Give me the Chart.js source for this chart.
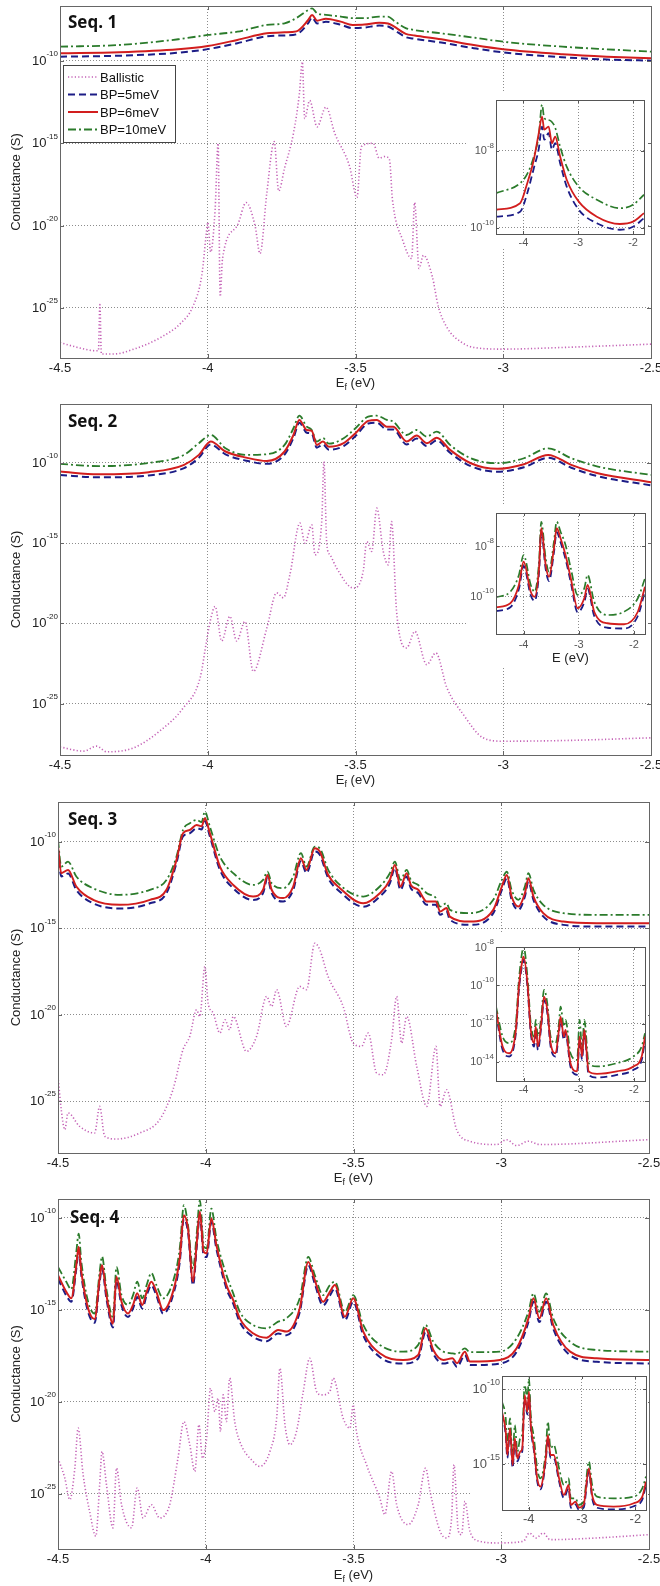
<!DOCTYPE html>
<html>
<head>
<meta charset="utf-8">
<title>Conductance vs Fermi energy</title>
<script src="https://cdn.jsdelivr.net/npm/chart.js@4.4.1/dist/chart.umd.min.js"></script>
<style>
  html, body { margin: 0; padding: 0; background: #fff; }
  body { position: relative; width: 660px; height: 1586px; overflow: hidden; font-family: "Liberation Sans", Arial, sans-serif; }
  canvas { position: absolute; }
  .seq { position: absolute; font: 700 17px/17px "Open Sans", "Noto Sans", sans-serif; color: #111; white-space: nowrap; }
  .xt { position: absolute; width: 120px; text-align: center; font-size: 13px; line-height: 15px; color: #222; }
  .xt sub { font-size: 9px; vertical-align: -3px; line-height: 0; }
</style>
</head>
<body>
<script>
// all conductance values are log10(G / S); energies in eV

// ---- Seq. 1 ----
const p1BalE = [-4.5,-4.44,-4.38,-4.37,-4.365,-4.36,-4.32,-4.25,-4.16,-4.09,-4.05,-4.02,-4.005,-4.0,-3.99,-3.975,-3.965,-3.958,-3.95,-3.9,-3.87,-3.84,-3.823,-3.8,-3.775,-3.76,-3.74,-3.71,-3.69,-3.68,-3.672,-3.655,-3.63,-3.6,-3.57,-3.52,-3.495,-3.48,-3.44,-3.42,-3.4,-3.385,-3.375,-3.34,-3.31,-3.3,-3.285,-3.27,-3.24,-3.22,-3.19,-3.14,-3.1,-3.0,-2.8,-2.5];
const p1Bal = [-27.1,-27.4,-27.6,-27.6,-24.8,-27.8,-27.8,-27.5,-26.8,-25.9,-24.9,-23.0,-20.5,-19.8,-21.6,-19.0,-15.0,-24.3,-22.0,-20.0,-18.6,-20.0,-21.7,-18.0,-14.9,-17.9,-16.5,-14.4,-12.0,-10.05,-13.5,-12.4,-14.0,-12.8,-14.4,-16.4,-18.3,-15.2,-15.0,-15.9,-15.8,-16.0,-18.4,-20.9,-22.0,-18.6,-22.6,-21.8,-23.1,-24.9,-26.2,-27.1,-27.4,-27.5,-27.4,-27.2];
const p1E = [-4.5,-4.3,-4.1,-4.0,-3.9,-3.8,-3.74,-3.7,-3.66,-3.647,-3.63,-3.6,-3.55,-3.51,-3.47,-3.42,-3.39,-3.37,-3.33,-3.3,-3.21,-3.1,-3.0,-2.8,-2.65,-2.5];
const p1Bp5 = [-9.74,-9.68,-9.5,-9.28,-8.92,-8.5,-8.45,-8.38,-7.7,-7.36,-7.72,-7.62,-7.8,-8.0,-7.97,-7.85,-7.9,-8.1,-8.55,-8.65,-8.88,-9.22,-9.48,-9.77,-9.91,-9.98];
const p1Bp6 = [-9.53,-9.47,-9.29,-9.09,-8.72,-8.32,-8.26,-8.2,-7.51,-7.2,-7.55,-7.43,-7.61,-7.81,-7.79,-7.67,-7.72,-7.9,-8.35,-8.45,-8.68,-9.03,-9.29,-9.59,-9.74,-9.84];
const p1Bp10 = [-9.13,-9.03,-8.68,-8.42,-8.22,-7.81,-7.71,-7.39,-6.9,-6.8,-7.1,-7.2,-7.3,-7.4,-7.4,-7.3,-7.3,-7.55,-8.0,-8.12,-8.32,-8.58,-8.83,-9.13,-9.29,-9.43];
const i1E = [-4.5,-4.06,-3.93,-3.81,-3.72,-3.66,-3.62,-3.54,-3.48,-3.42,-3.33,-3.21,-2.99,-2.66,-2.24,-2.0,-1.8];
const i1Bp5 = [-9.71,-9.58,-9.1,-8.45,-7.95,-7.37,-7.71,-7.54,-7.97,-7.8,-8.32,-8.93,-9.53,-9.88,-10.05,-9.97,-9.75];
const i1Bp6 = [-9.53,-9.36,-8.84,-8.23,-7.54,-7.11,-7.45,-7.37,-7.8,-7.63,-8.15,-8.75,-9.32,-9.71,-9.9,-9.84,-9.62];
const i1Bp10 = [-9.1,-8.84,-8.6,-8.15,-7.6,-6.8,-7.15,-7.2,-7.25,-7.4,-7.89,-8.41,-8.93,-9.27,-9.49,-9.4,-9.14];

// ---- Seq. 2 ----
const p2BalE = [-4.5,-4.42,-4.376,-4.342,-4.252,-4.162,-4.083,-4.026,-4.004,-3.992,-3.975,-3.953,-3.925,-3.902,-3.874,-3.846,-3.8,-3.767,-3.744,-3.722,-3.688,-3.671,-3.648,-3.637,-3.614,-3.607,-3.597,-3.586,-3.564,-3.507,-3.474,-3.462,-3.445,-3.428,-3.406,-3.389,-3.378,-3.361,-3.327,-3.299,-3.259,-3.228,-3.191,-3.135,-3.068,-3.0,-2.8,-2.5];
const p2Bal = [-27.7,-27.96,-27.65,-28.0,-27.76,-26.7,-25.27,-23.4,-21.1,-19.88,-18.94,-21.1,-19.56,-21.1,-19.88,-22.99,-20.29,-18.1,-18.4,-16.97,-13.75,-15.0,-13.86,-15.73,-13.55,-9.92,-15.1,-15.73,-16.55,-17.8,-16.76,-14.9,-15.52,-12.82,-15.52,-16.35,-13.65,-19.25,-21.53,-20.5,-22.57,-21.84,-24.0,-25.68,-27.13,-27.34,-27.3,-27.13];
const p2E = [-4.5,-4.37,-4.2,-4.08,-4.03,-3.99,-3.94,-3.87,-3.8,-3.74,-3.71,-3.69,-3.665,-3.648,-3.631,-3.61,-3.59,-3.54,-3.5,-3.457,-3.428,-3.394,-3.372,-3.327,-3.293,-3.259,-3.225,-3.18,-3.11,-3.02,-2.93,-2.848,-2.77,-2.68,-2.5];
const p2Bp5 = [-10.75,-10.9,-10.78,-10.32,-9.68,-8.85,-9.47,-9.86,-10.06,-9.48,-8.45,-7.5,-8.12,-8.18,-9.05,-8.85,-9.18,-8.95,-8.33,-7.55,-7.5,-7.92,-7.92,-8.85,-8.48,-8.95,-8.6,-9.37,-10.2,-10.55,-10.27,-9.68,-10.3,-10.83,-11.4];
const p2Bp6 = [-10.54,-10.71,-10.58,-10.12,-9.5,-8.67,-9.29,-9.67,-9.88,-9.29,-8.26,-7.32,-7.95,-8.0,-8.88,-8.67,-9.0,-8.77,-8.15,-7.38,-7.32,-7.74,-7.74,-8.67,-8.3,-8.77,-8.43,-9.19,-10.02,-10.37,-10.08,-9.5,-10.12,-10.64,-11.2];
const p2Bp10 = [-10.06,-10.2,-10.0,-9.5,-8.77,-8.26,-9.09,-9.5,-9.46,-8.88,-7.84,-7.06,-7.74,-7.95,-8.67,-8.46,-8.8,-8.46,-7.84,-7.12,-7.06,-7.32,-7.43,-8.26,-7.95,-8.36,-8.05,-8.88,-9.71,-10.02,-9.71,-9.09,-9.71,-10.23,-10.75];
const i2E = [-4.5,-4.24,-4.085,-4.0,-3.87,-3.8,-3.72,-3.68,-3.6,-3.54,-3.45,-3.4,-3.33,-3.24,-3.145,-3.02,-2.9,-2.84,-2.72,-2.48,-2.18,-1.93,-1.8];
const i2Bp5 = [-10.6,-10.45,-9.72,-8.8,-9.98,-10.2,-9.05,-7.45,-8.92,-9.4,-8.25,-7.45,-7.85,-8.52,-9.45,-10.65,-10.25,-9.72,-10.8,-11.27,-11.3,-10.8,-9.8];
const i2Bp6 = [-10.45,-10.29,-9.56,-8.63,-9.83,-10.03,-8.89,-7.29,-8.76,-9.23,-8.09,-7.29,-7.69,-8.36,-9.29,-10.49,-10.09,-9.56,-10.63,-11.09,-11.13,-10.63,-9.63];
const i2Bp10 = [-10.05,-9.83,-9.16,-8.36,-9.56,-9.83,-8.63,-7.03,-8.49,-9.03,-7.83,-7.03,-7.43,-7.96,-8.89,-9.96,-9.69,-9.16,-10.23,-10.76,-10.63,-10.09,-9.29];

// ---- Seq. 3 ----
const p3BalE = [-4.5,-4.489,-4.477,-4.466,-4.427,-4.376,-4.359,-4.342,-4.302,-4.223,-4.156,-4.111,-4.077,-4.054,-4.031,-4.02,-4.003,-3.992,-3.975,-3.952,-3.935,-3.919,-3.907,-3.862,-3.828,-3.794,-3.777,-3.76,-3.727,-3.682,-3.659,-3.631,-3.614,-3.586,-3.535,-3.501,-3.473,-3.45,-3.422,-3.399,-3.371,-3.354,-3.337,-3.32,-3.286,-3.252,-3.221,-3.207,-3.185,-3.151,-3.106,-3.015,-2.982,-2.948,-2.908,-2.869,-2.5];
const p3Bal = [-23.57,-25.49,-26.65,-25.68,-26.46,-26.84,-25.3,-27.03,-27.19,-26.84,-26.07,-24.34,-22.02,-21.25,-19.71,-20.1,-17.21,-19.33,-19.9,-21.06,-20.29,-20.87,-20.1,-22.12,-21.25,-18.94,-19.52,-18.55,-20.68,-18.36,-18.55,-15.86,-16.24,-17.79,-19.52,-21.64,-21.83,-21.06,-23.37,-23.47,-21.45,-18.94,-21.64,-20.1,-22.99,-25.3,-21.83,-25.3,-24.34,-26.65,-27.32,-27.51,-27.23,-27.57,-27.32,-27.51,-27.23];
const p3E = [-4.5,-4.489,-4.466,-4.438,-4.381,-4.291,-4.189,-4.133,-4.099,-4.077,-4.054,-4.031,-4.014,-4.003,-3.986,-3.952,-3.907,-3.84,-3.806,-3.791,-3.777,-3.738,-3.704,-3.678,-3.659,-3.631,-3.614,-3.586,-3.546,-3.467,-3.411,-3.377,-3.36,-3.341,-3.32,-3.306,-3.281,-3.252,-3.221,-3.207,-3.185,-3.174,-3.106,-3.027,-2.998,-2.981,-2.965,-2.942,-2.92,-2.908,-2.891,-2.858,-2.79,-2.677,-2.5];
const p3Bp5 = [-10.45,-12.0,-11.82,-12.78,-13.55,-13.85,-13.55,-12.97,-11.22,-9.68,-9.5,-9.2,-9.28,-8.8,-9.68,-11.62,-12.68,-13.36,-12.96,-12.1,-12.96,-13.45,-12.78,-11.12,-11.8,-10.55,-10.74,-12.08,-12.88,-13.75,-13.16,-12.4,-11.52,-12.78,-12.0,-12.68,-12.96,-13.64,-13.64,-14.22,-14.02,-14.5,-14.8,-14.12,-12.78,-12.1,-13.35,-13.93,-13.16,-12.3,-13.35,-14.31,-14.8,-14.9,-14.9];
const p3Bp6 = [-10.27,-11.81,-11.62,-12.58,-13.35,-13.64,-13.35,-12.77,-11.04,-9.5,-9.31,-9.02,-9.1,-8.63,-9.5,-11.43,-12.49,-13.16,-12.77,-11.91,-12.77,-13.25,-12.58,-10.94,-11.62,-10.37,-10.56,-11.9,-12.68,-13.55,-12.97,-12.2,-11.33,-12.58,-11.81,-12.49,-12.77,-13.45,-13.45,-14.03,-13.83,-14.32,-14.61,-13.93,-12.58,-11.91,-13.16,-13.74,-12.97,-12.1,-13.16,-14.12,-14.61,-14.7,-14.7];
const p3Bp10 = [-9.88,-11.43,-11.14,-12.0,-12.68,-13.06,-12.77,-12.2,-10.85,-9.31,-8.92,-8.73,-8.85,-8.25,-9.12,-10.85,-11.81,-12.49,-12.2,-11.72,-12.39,-12.68,-12.0,-10.65,-11.43,-10.27,-10.37,-11.6,-12.49,-13.16,-12.58,-11.81,-11.14,-12.2,-11.62,-12.2,-12.49,-12.97,-13.25,-13.74,-13.55,-13.93,-14.12,-13.35,-12.2,-11.72,-12.77,-13.35,-12.58,-11.81,-12.77,-13.64,-14.12,-14.22,-14.22];
const i3E = [-4.5,-4.38,-4.26,-4.14,-4.085,-4.02,-4.0,-3.93,-3.87,-3.81,-3.78,-3.74,-3.68,-3.63,-3.57,-3.51,-3.42,-3.36,-3.33,-3.27,-3.24,-3.15,-3.03,-2.985,-2.94,-2.9,-2.82,-2.67,-2.31,-2.01,-1.86,-1.8];
const i3Bp5 = [-11.45,-13.38,-13.72,-12.5,-10.25,-8.85,-8.68,-10.08,-12.5,-13.2,-12.33,-13.38,-12.15,-10.77,-11.45,-13.2,-13.72,-12.5,-11.82,-12.85,-12.5,-14.25,-14.68,-12.85,-13.9,-12.5,-14.68,-14.82,-14.68,-14.42,-13.9,-12.85];
const i3Bp6 = [-11.29,-13.2,-13.55,-12.33,-10.07,-8.68,-8.5,-9.9,-12.33,-13.02,-12.16,-13.2,-11.98,-10.59,-11.29,-13.02,-13.55,-12.33,-11.64,-12.68,-12.33,-14.07,-14.5,-12.68,-13.72,-12.33,-14.5,-14.63,-14.5,-14.24,-13.72,-12.68];
const i3Bp10 = [-11.11,-12.68,-13.02,-11.98,-9.72,-8.16,-8.0,-9.55,-11.98,-12.68,-11.81,-12.68,-11.64,-10.24,-10.94,-12.68,-13.02,-11.98,-11.11,-12.16,-11.81,-13.55,-13.9,-11.81,-13.37,-11.81,-14.07,-14.24,-14.07,-13.72,-13.2,-12.5];

// ---- Seq. 4 ----
const p4BalE = [-4.5,-4.477,-4.46,-4.443,-4.432,-4.415,-4.393,-4.372,-4.359,-4.351,-4.336,-4.314,-4.302,-4.285,-4.251,-4.232,-4.212,-4.184,-4.156,-4.122,-4.094,-4.074,-4.054,-4.037,-4.023,-4.011,-3.997,-3.984,-3.969,-3.958,-3.95,-3.941,-3.93,-3.919,-3.902,-3.885,-3.84,-3.817,-3.783,-3.76,-3.749,-3.732,-3.715,-3.693,-3.67,-3.648,-3.625,-3.608,-3.58,-3.569,-3.535,-3.512,-3.501,-3.49,-3.456,-3.411,-3.394,-3.371,-3.354,-3.315,-3.281,-3.256,-3.241,-3.207,-3.185,-3.168,-3.16,-3.145,-3.134,-3.123,-3.106,-3.072,-3.015,-2.925,-2.905,-2.882,-2.858,-2.835,-2.677,-2.5];
const p4Bal = [-23.06,-24.14,-25.32,-23.6,-21.43,-23.96,-25.95,-27.31,-24.5,-22.7,-24.5,-26.85,-23.6,-25.59,-26.85,-24.68,-26.31,-25.59,-26.31,-25.59,-23.06,-21.07,-22.33,-23.78,-21.25,-23.06,-21.97,-19.26,-20.53,-19.8,-21.61,-19.62,-21.07,-18.71,-21.07,-22.15,-23.24,-23.51,-22.7,-20.89,-18.17,-21.25,-22.33,-21.61,-19.44,-17.63,-19.44,-19.62,-19.44,-18.71,-20.89,-21.43,-20.16,-21.61,-23.42,-25.23,-26.13,-23.78,-25.59,-26.67,-25.59,-23.6,-24.87,-27.04,-27.4,-26.31,-23.42,-27.04,-27.22,-25.41,-27.04,-27.58,-27.67,-27.58,-27.13,-27.4,-27.13,-27.49,-27.4,-27.22];
const p4E = [-4.5,-4.472,-4.455,-4.438,-4.43,-4.421,-4.398,-4.376,-4.359,-4.351,-4.336,-4.314,-4.302,-4.285,-4.263,-4.246,-4.232,-4.215,-4.2,-4.184,-4.167,-4.144,-4.111,-4.088,-4.074,-4.06,-4.043,-4.031,-4.02,-4.007,-3.997,-3.981,-3.964,-3.93,-3.907,-3.885,-3.84,-3.794,-3.755,-3.727,-3.682,-3.653,-3.631,-3.603,-3.58,-3.563,-3.529,-3.501,-3.467,-3.411,-3.332,-3.281,-3.256,-3.23,-3.196,-3.165,-3.15,-3.123,-3.106,-3.005,-2.948,-2.908,-2.891,-2.871,-2.848,-2.824,-2.767,-2.677,-2.5];
const p4Bp5 = [-13.3,-14.22,-14.56,-12.76,-11.76,-13.12,-15.12,-15.7,-13.48,-12.76,-14.4,-15.95,-13.4,-14.76,-15.38,-14.92,-14.3,-14.92,-14.22,-13.66,-14.22,-15.2,-14.22,-12.4,-10.05,-10.78,-13.66,-11.68,-9.86,-12.04,-12.12,-10.22,-11.68,-13.84,-14.66,-15.66,-16.46,-16.7,-16.28,-16.38,-15.12,-12.58,-13.58,-14.76,-14.22,-13.84,-15.56,-14.56,-16.38,-17.56,-17.92,-17.64,-16.2,-17.38,-17.92,-17.82,-18.1,-17.46,-18.0,-17.92,-17.28,-15.66,-14.56,-15.66,-14.56,-16.02,-17.46,-17.82,-17.92];
const p4Bp6 = [-13.11,-14.02,-14.37,-12.57,-11.57,-12.93,-14.92,-15.5,-13.29,-12.57,-14.2,-15.75,-13.2,-14.56,-15.19,-14.73,-14.1,-14.73,-14.02,-13.47,-14.02,-15.01,-14.02,-12.2,-9.85,-10.58,-13.47,-11.48,-9.67,-11.84,-11.93,-10.03,-11.48,-13.65,-14.47,-15.46,-16.27,-16.51,-16.09,-16.18,-14.92,-12.39,-13.38,-14.56,-14.02,-13.65,-15.37,-14.37,-16.18,-17.36,-17.72,-17.45,-16.0,-17.18,-17.72,-17.63,-17.9,-17.27,-17.81,-17.72,-17.09,-15.46,-14.37,-15.46,-14.37,-15.82,-17.27,-17.63,-17.72];
const p4Bp10 = [-12.66,-13.47,-13.88,-11.84,-10.85,-12.39,-14.56,-15.2,-12.93,-12.1,-13.88,-15.4,-12.66,-14.2,-14.73,-14.2,-13.47,-14.37,-13.65,-13.0,-13.65,-14.37,-13.47,-11.66,-9.31,-10.4,-12.75,-10.94,-9.04,-11.48,-11.66,-9.49,-11.12,-13.11,-14.1,-15.1,-15.82,-16.0,-15.64,-15.46,-14.37,-12.12,-13.11,-14.2,-13.65,-13.47,-15.1,-14.2,-15.82,-16.9,-17.27,-16.9,-15.82,-16.73,-17.27,-17.36,-17.4,-17.09,-17.3,-17.27,-16.55,-15.1,-14.1,-15.1,-14.1,-15.46,-16.73,-17.18,-17.27];
const i4E = [-4.5,-4.43,-4.4,-4.35,-4.3,-4.26,-4.21,-4.16,-4.12,-4.075,-4.025,-3.995,-3.96,-3.9,-3.84,-3.78,-3.68,-3.64,-3.59,-3.53,-3.43,-3.34,-3.25,-3.21,-3.12,-3.06,-2.97,-2.87,-2.81,-2.72,-2.41,-2.03,-1.87,-1.8];
const i4Bp5 = [-11.7,-13.05,-14.6,-12.82,-15.27,-13.48,-14.82,-14.38,-14.15,-10.6,-11.7,-10.38,-12.6,-14.15,-16.15,-16.7,-14.82,-13.27,-14.6,-14.6,-16.15,-17.27,-16.6,-17.92,-17.7,-18.05,-17.92,-15.48,-17.27,-17.92,-18.03,-17.82,-17.38,-16.38];
const i4Bp6 = [-11.51,-12.85,-14.4,-12.62,-15.07,-13.29,-14.62,-14.18,-13.96,-10.4,-11.51,-10.18,-12.4,-13.96,-15.96,-16.51,-14.62,-13.07,-14.4,-14.4,-15.96,-17.07,-16.4,-17.73,-17.51,-17.91,-17.73,-15.29,-17.07,-17.73,-17.84,-17.62,-17.18,-16.18];
const i4Bp10 = [-10.84,-11.96,-13.73,-11.96,-14.62,-12.4,-14.18,-13.29,-12.96,-9.73,-10.62,-9.29,-11.73,-13.29,-15.29,-15.96,-14.18,-12.18,-13.96,-13.73,-15.29,-16.4,-15.96,-17.29,-17.29,-17.73,-17.51,-14.84,-16.4,-17.18,-17.29,-17.18,-16.62,-15.84];

// axis ticks
const mainXTicks = [-4.5, -4, -3.5, -3, -2.5];
const mainYExp = [-25, -20, -15, -10];
const insetXTicks = [-4, -3, -2];
const seqNames = ['Seq. 1', 'Seq. 2', 'Seq. 3', 'Seq. 4'];

const FONT = '"Liberation Sans", Arial, sans-serif';
Chart.defaults.font.family = FONT;

const STYLE = {
  bal:  { label: 'Ballistic', borderColor: '#c462b6', borderWidth: 1.6, borderDash: [1.2, 2.2], order: 4 },
  bp5:  { label: 'BP=5meV',  borderColor: '#1c1c86', borderWidth: 2,   borderDash: [7, 4], order: 2 },
  bp6:  { label: 'BP=6meV',  borderColor: '#d21e1e', borderWidth: 2,   borderDash: [], order: 1 },
  bp10: { label: 'BP=10meV', borderColor: '#2b7b2b', borderWidth: 1.8, borderDash: [8, 3, 2, 3], order: 3 }
};

function series(style, E, lg, width) {
  return Object.assign({}, style, {
    data: E.map((e, i) => ({ x: e, y: Math.pow(10, lg[i]) })),
    borderWidth: width || style.borderWidth,
    pointRadius: 0, fill: false,
    cubicInterpolationMode: 'monotone'
  });
}

function addCanvas(left, top, w, h) {
  const c = document.createElement('canvas');
  c.width = w; c.height = h;
  c.style.left = left + 'px'; c.style.top = top + 'px';
  c.style.width = w + 'px'; c.style.height = h + 'px';
  document.body.appendChild(c);
  return c;
}

// axes box plus short inward ticks on every side
const frame = {
  id: 'frame',
  afterDatasetsDraw(chart, args, o) {
    const { ctx, chartArea: a, scales } = chart;
    ctx.save();
    ctx.strokeStyle = o.color;
    ctx.lineWidth = 1;
    ctx.setLineDash([]);
    ctx.strokeRect(Math.round(a.left) + 0.5, Math.round(a.top) + 0.5, Math.round(a.right - a.left), Math.round(a.bottom - a.top));
    ctx.beginPath();
    scales.y.ticks.forEach(t => {
      const p = Math.round(scales.y.getPixelForValue(t.value)) + 0.5;
      ctx.moveTo(a.left, p); ctx.lineTo(a.left + o.tick, p);
      ctx.moveTo(a.right, p); ctx.lineTo(a.right - o.tick, p);
    });
    scales.x.ticks.forEach(t => {
      const p = Math.round(scales.x.getPixelForValue(t.value)) + 0.5;
      ctx.moveTo(p, a.bottom); ctx.lineTo(p, a.bottom - o.tick);
      ctx.moveTo(p, a.top); ctx.lineTo(p, a.top + o.tick);
    });
    ctx.stroke();
    ctx.restore();
  }
};

// y labels written as 10 with a raised exponent
const expTicks = {
  id: 'expTicks',
  afterDraw(chart, args, o) {
    const { ctx, chartArea: a } = chart;
    const y = chart.scales.y;
    ctx.save();
    ctx.fillStyle = o.color;
    ctx.textAlign = 'right';
    ctx.textBaseline = 'middle';
    y.ticks.forEach(t => {
      const py = y.getPixelForValue(t.value);
      const exp = String(Math.round(Math.log10(t.value)));
      const xr = a.left - o.pad;
      ctx.font = o.sup + 'px ' + FONT;
      const ws = ctx.measureText(exp).width;
      ctx.fillText(exp, xr, py - o.rise);
      ctx.font = o.size + 'px ' + FONT;
      ctx.fillText('10', xr - ws, py + 0.5);
    });
    ctx.restore();
  }
};

// boxed legend inside the top-left of the plot
const boxLegend = {
  id: 'boxLegend',
  afterDraw(chart, args, o) {
    if (!o.show) return;
    const { ctx, chartArea: a } = chart;
    const x = Math.round(a.left + o.dx), y = Math.round(a.top + o.dy);
    ctx.save();
    ctx.fillStyle = '#fff';
    ctx.fillRect(x, y, o.w, o.h);
    ctx.strokeStyle = '#444';
    ctx.lineWidth = 1;
    ctx.strokeRect(x + 0.5, y + 0.5, o.w, o.h);
    ctx.font = '13px ' + FONT;
    ctx.textBaseline = 'middle';
    chart.data.datasets.forEach((ds, i) => {
      const ly = y + o.first + i * o.step;
      ctx.strokeStyle = ds.borderColor;
      ctx.lineWidth = ds.borderWidth;
      ctx.setLineDash(ds.borderDash || []);
      ctx.beginPath(); ctx.moveTo(x + 5, ly); ctx.lineTo(x + 35, ly); ctx.stroke();
      ctx.setLineDash([]);
      ctx.fillStyle = '#111';
      ctx.fillText(ds.label, x + 37, ly + 1);
    });
    ctx.restore();
  }
};

const whiteBg = {
  id: 'whiteBg',
  beforeDraw(chart) {
    const ctx = chart.ctx;
    ctx.save();
    ctx.fillStyle = '#fff';
    ctx.fillRect(0, 0, chart.width, chart.height);
    ctx.restore();
  }
};

const gridOpts = { color: '#8c8c8c', lineWidth: 1, drawTicks: false };
const borderOpts = { display: false, dash: [1, 2] };

const panels = [
  { area: { left: 60, top: 6, right: 651, bottom: 358 }, yLim: [-28.04, -6.66], bal: [p1BalE, p1Bal], bp: [p1E, p1Bp5, p1Bp6, p1Bp10], legend: true, seq: [68, 13], xt: 375 },
  { area: { left: 60, top: 404, right: 651, bottom: 755 }, yLim: [-28.2, -6.33], bal: [p2BalE, p2Bal], bp: [p2E, p2Bp5, p2Bp6, p2Bp10], legend: false, seq: [68, 412], xt: 772 },
  { area: { left: 58, top: 802, right: 649, bottom: 1153 }, yLim: [-28.0, -7.69], bal: [p3BalE, p3Bal], bp: [p3E, p3Bp5, p3Bp6, p3Bp10], legend: false, seq: [68, 810], xt: 1170 },
  { area: { left: 58, top: 1199, right: 649, bottom: 1549 }, yLim: [-28.0, -8.97], bal: [p4BalE, p4Bal], bp: [p4E, p4Bp5, p4Bp6, p4Bp10], legend: false, seq: [70, 1208], xt: 1567 }
];

const insets = [
  { left: 468, width: 180, padT: 8,  xH: 13, area: { left: 496, top: 100, right: 644, bottom: 234 }, yLim: [-10.16, -6.68], yExp: [-8, -10], bp: [i1E, i1Bp5, i1Bp6, i1Bp10], font: 11, sup: 8, rise: 5.5, tickPad: 2, title: '' },
  { left: 468, width: 180, padT: 8,  xH: 32, area: { left: 496, top: 513, right: 645, bottom: 634 }, yLim: [-11.52, -6.68], yExp: [-8, -10], bp: [i2E, i2Bp5, i2Bp6, i2Bp10], font: 11, sup: 8, rise: 5.5, tickPad: 4, title: 'E (eV)' },
  { left: 468, width: 180, padT: 13, xH: 16, area: { left: 496, top: 947, right: 645, bottom: 1081 }, yLim: [-15.0, -8.0], yExp: [-8, -10, -12, -14], bp: [i3E, i3Bp5, i3Bp6, i3Bp10], font: 11, sup: 8, rise: 5.5, tickPad: 2, title: '' },
  { left: 470, width: 178, padT: 8,  xH: 20, area: { left: 502, top: 1376, right: 646, bottom: 1510 }, yLim: [-18.07, -9.13], yExp: [-10, -15], bp: [i4E, i4Bp5, i4Bp6, i4Bp10], font: 13, sup: 9, rise: 6.5, tickPad: 2, title: '' }
];

function drawPanel(p, k) {
  const PADT = 14, XH = 22, W = 680;
  const c = addCanvas(0, p.area.top - PADT, W, p.area.bottom - p.area.top + PADT + XH);
  new Chart(c, {
    type: 'line',
    data: {
      datasets: [
        series(STYLE.bal, p.bal[0], p.bal[1]),
        series(STYLE.bp5, p.bp[0], p.bp[1]),
        series(STYLE.bp6, p.bp[0], p.bp[2]),
        series(STYLE.bp10, p.bp[0], p.bp[3])
      ]
    },
    options: {
      responsive: false, animation: false, events: [],
      layout: { padding: { left: 0, top: PADT, right: W - p.area.right, bottom: 0 } },
      plugins: {
        legend: { display: false }, tooltip: { enabled: false },
        frame: { color: '#666', tick: 4 },
        expTicks: { color: '#222', size: 13, sup: 8, rise: 7, pad: 2 },
        boxLegend: { show: p.legend, dx: 3, dy: 59, w: 112, h: 77, first: 12, step: 17.5 }
      },
      scales: {
        x: {
          type: 'linear', min: -4.5, max: -2.5,
          afterBuildTicks: s => { s.ticks = mainXTicks.map(v => ({ value: v })); },
          afterFit: s => { s.height = XH; },
          ticks: { color: '#222', font: { size: 13 }, padding: 3, maxRotation: 0, autoSkip: false, callback: v => String(v) },
          grid: gridOpts, border: borderOpts
        },
        y: {
          type: 'logarithmic', min: Math.pow(10, p.yLim[0]), max: Math.pow(10, p.yLim[1]),
          afterBuildTicks: s => { s.ticks = mainYExp.map(e => ({ value: Math.pow(10, e) })); },
          afterFit: s => { s.width = p.area.left; },
          ticks: { display: false },
          grid: gridOpts, border: borderOpts,
          title: { display: true, text: 'Conductance (S)', color: '#222', font: { size: 13 }, padding: { top: 9, bottom: 0 } }
        }
      }
    },
    plugins: [frame, expTicks, boxLegend]
  });

  const s = document.createElement('div');
  s.className = 'seq';
  s.style.left = p.seq[0] + 'px'; s.style.top = p.seq[1] + 'px';
  s.textContent = seqNames[k];
  document.body.appendChild(s);

  const t = document.createElement('div');
  t.className = 'xt';
  t.style.left = ((p.area.left + p.area.right) / 2 - 60) + 'px';
  t.style.top = p.xt + 'px';
  t.innerHTML = 'E<sub>f</sub> (eV)';
  document.body.appendChild(t);
}

function drawInset(q) {
  const c = addCanvas(q.left, q.area.top - q.padT, q.width, q.area.bottom - q.area.top + q.padT + q.xH);
  new Chart(c, {
    type: 'line',
    data: {
      datasets: [
        series(STYLE.bp5, q.bp[0], q.bp[1], 1.8),
        series(STYLE.bp6, q.bp[0], q.bp[2], 1.8),
        series(STYLE.bp10, q.bp[0], q.bp[3], 1.7)
      ]
    },
    options: {
      responsive: false, animation: false, events: [],
      layout: { padding: { left: 0, top: q.padT, right: q.left + q.width - q.area.right, bottom: 0 } },
      plugins: {
        legend: { display: false }, tooltip: { enabled: false },
        frame: { color: '#555', tick: 3 },
        expTicks: { color: '#555', size: q.font, sup: q.sup, rise: q.rise, pad: 2 }
      },
      scales: {
        x: {
          type: 'linear', min: -4.5, max: -1.8,
          afterBuildTicks: s => { s.ticks = insetXTicks.map(v => ({ value: v })); },
          afterFit: s => { s.height = q.xH; },
          ticks: { color: '#555', font: { size: q.font }, padding: q.tickPad, maxRotation: 0, autoSkip: false, callback: v => String(v) },
          grid: gridOpts, border: borderOpts,
          title: { display: !!q.title, text: q.title, color: '#222', font: { size: 13 }, padding: { top: 0, bottom: 0 } }
        },
        y: {
          type: 'logarithmic', min: Math.pow(10, q.yLim[0]), max: Math.pow(10, q.yLim[1]),
          afterBuildTicks: s => { s.ticks = q.yExp.map(e => ({ value: Math.pow(10, e) })); },
          afterFit: s => { s.width = q.area.left - q.left; },
          ticks: { display: false },
          grid: gridOpts, border: borderOpts
        }
      }
    },
    plugins: [whiteBg, frame, expTicks]
  });
}

panels.forEach(drawPanel);
insets.forEach(drawInset);
</script>
</body>
</html>
